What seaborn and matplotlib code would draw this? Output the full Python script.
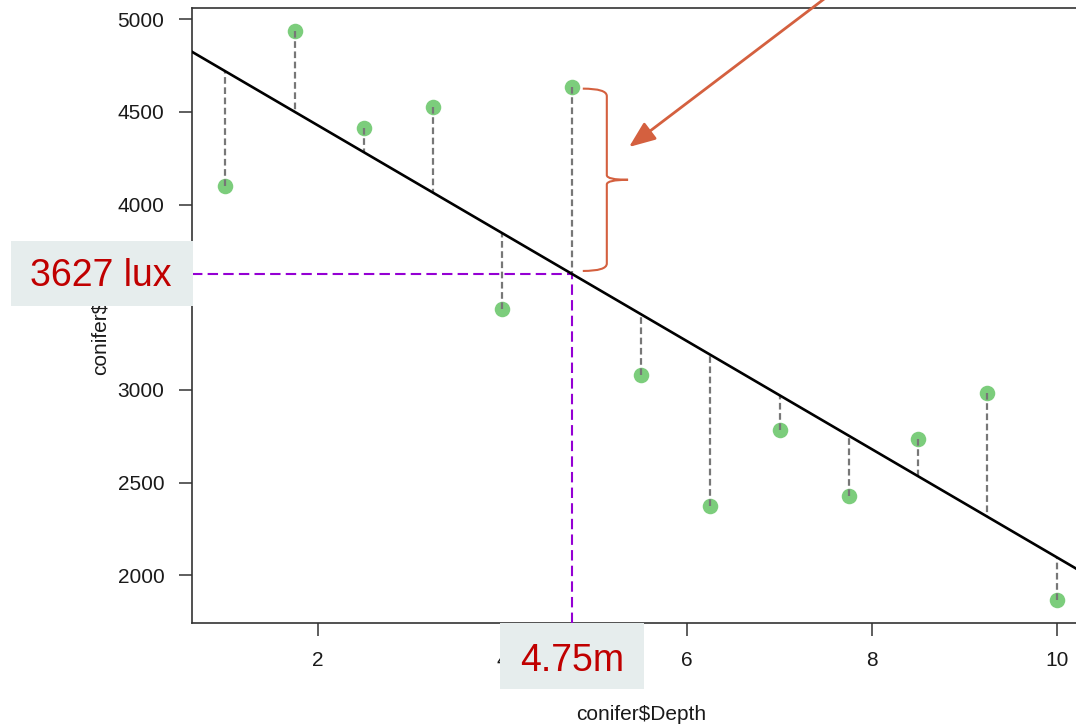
import numpy as np
import pandas as pd
import matplotlib
matplotlib.use("Agg")
import matplotlib.pyplot as plt
import seaborn as sns
from matplotlib.path import Path
from matplotlib.patches import PathPatch, Rectangle

# Conifer light readings against depth
depth = [1.0, 1.75, 2.5, 3.25, 4.0, 4.75, 5.5, 6.25, 7.0, 7.75, 8.5, 9.25, 10.0]
light = [4102, 4937, 4414, 4527, 3439, 4635, 3083, 2372, 2782, 2426, 2738, 2986, 1866]
xticks = [2, 4, 6, 8, 10]
yticks = [2000, 2500, 3000, 3500, 4000, 4500, 5000]
query_depth = 4.75
query_label = "4.75m"
pred_label = "3627 lux"

df = pd.DataFrame({"Depth": depth, "Light": light})

sns.set_theme(style="white")
plt.rcParams["font.family"] = ["Liberation Sans", "DejaVu Sans"]

W, H = 1076, 724
fig = plt.figure(figsize=(W / 100, H / 100), dpi=100)
ax = fig.add_axes([192 / W, (H - 623) / H, (1090 - 192) / W, (623 - 8) / H])

POINT = "#7CCD7C"
RESID = "#777777"
GUIDE = "#9400D3"
ACCENT = "#D4603F"
BOXBG = "#E6EDED"
LABEL_RED = "#C00000"
INK = "#1A1A1A"

# data-range limits with a 4% pad on each side
x = np.asarray(depth, float)
y = np.asarray(light, float)
xpad = 0.04 * (x.max() - x.min())
ypad = 0.04 * (y.max() - y.min())
xlim = (x.min() - xpad, x.max() + xpad)
ylim = (y.min() - ypad, y.max() + ypad)

sns.regplot(data=df, x="Depth", y="Light", ax=ax, ci=None, truncate=False,
            scatter_kws=dict(s=125, color=POINT, alpha=1, linewidths=0, zorder=2),
            line_kws=dict(color="black", lw=1.9, zorder=4))

slope, intercept = np.polyfit(x, y, 1)
fitted = slope * x + intercept
pred = slope * query_depth + intercept

# residual segments from each observation to the fitted line
ax.vlines(x, y, fitted, colors=RESID, linestyles=(0, (3, 1.6)), lw=1.6, zorder=3)

ax.set_xlim(*xlim)
ax.set_ylim(*ylim)

# prediction guides
ax.plot([xlim[0], query_depth], [pred, pred], color=GUIDE, lw=1.5,
        ls=(0, (5, 2.5)), zorder=3.5)
ax.plot([query_depth, query_depth], [ylim[0], pred], color=GUIDE, lw=1.5,
        ls=(0, (5, 2.5)), zorder=3.5)

ax.set_xticks(xticks)
ax.set_yticks(yticks)
ax.set_xticklabels([str(t) for t in xticks])
ax.set_yticklabels([str(t) for t in yticks])
ax.tick_params(axis="both", direction="out", length=9.4, width=1.1,
               color="#333333", labelsize=15, labelcolor=INK, pad=10.5,
               bottom=True, left=True)
for sp in ax.spines.values():
    sp.set_color("#333333")
    sp.set_linewidth(1.2)
ax.set_xlabel(r"conifer\$Depth", fontsize=15, color=INK, labelpad=25.5)
ax.set_ylabel(r"conifer\$Light", fontsize=15, color=INK, labelpad=5)
ax.grid(False)

# brace marking the residual at the query depth
i_q = int(np.argmin(np.abs(x - query_depth)))
top = y[i_q] - 10
bot = pred + 15
mid = (top + bot) / 2
x0, x1, x2 = query_depth + 0.12, query_depth + 0.38, query_depth + 0.61
r = 40
verts = [(x0, top), (x1, top), (x1, top - r), (x1, mid + r / 1.6),
         (x1, mid), (x2, mid),
         (x2, mid), (x1, mid), (x1, mid - r / 1.6), (x1, bot + r),
         (x1, bot), (x0, bot)]
codes = [Path.MOVETO, Path.CURVE3, Path.CURVE3, Path.LINETO,
         Path.CURVE3, Path.CURVE3,
         Path.MOVETO, Path.CURVE3, Path.CURVE3, Path.LINETO,
         Path.CURVE3, Path.CURVE3]
ax.add_patch(PathPatch(Path(verts, codes), facecolor="none", edgecolor=ACCENT,
                       lw=1.5, zorder=5, clip_on=False))

# arrow pointing at the brace
ax.annotate("", xy=(629, H - 147), xytext=(828, H + 4), xycoords="figure pixels",
            textcoords="figure pixels", annotation_clip=False,
            arrowprops=dict(arrowstyle="-|>,head_length=0.8,head_width=0.32",
                            mutation_scale=20, color=ACCENT, lw=2.0,
                            shrinkA=0, shrinkB=0))

# value boxes
fig.canvas.draw()
cx, cy = ax.transData.transform((query_depth, pred))
fig.patches.append(Rectangle((11 / W, (cy - 32.5) / H), 182 / W, 65 / H,
                             transform=fig.transFigure, facecolor=BOXBG,
                             edgecolor="none", zorder=5))
fig.text(101 / W, (cy - 2.5) / H, pred_label, color=LABEL_RED, fontsize=27,
         ha="center", va="center", zorder=6)
fig.patches.append(Rectangle(((cx - 72) / W, 35 / H), 144 / W, 66 / H,
                             transform=fig.transFigure, facecolor=BOXBG,
                             edgecolor="none", zorder=5))
fig.text(cx / W, 63 / H, query_label, color=LABEL_RED, fontsize=27,
         ha="center", va="center", zorder=6)

fig.savefig("out.png", dpi=100)
